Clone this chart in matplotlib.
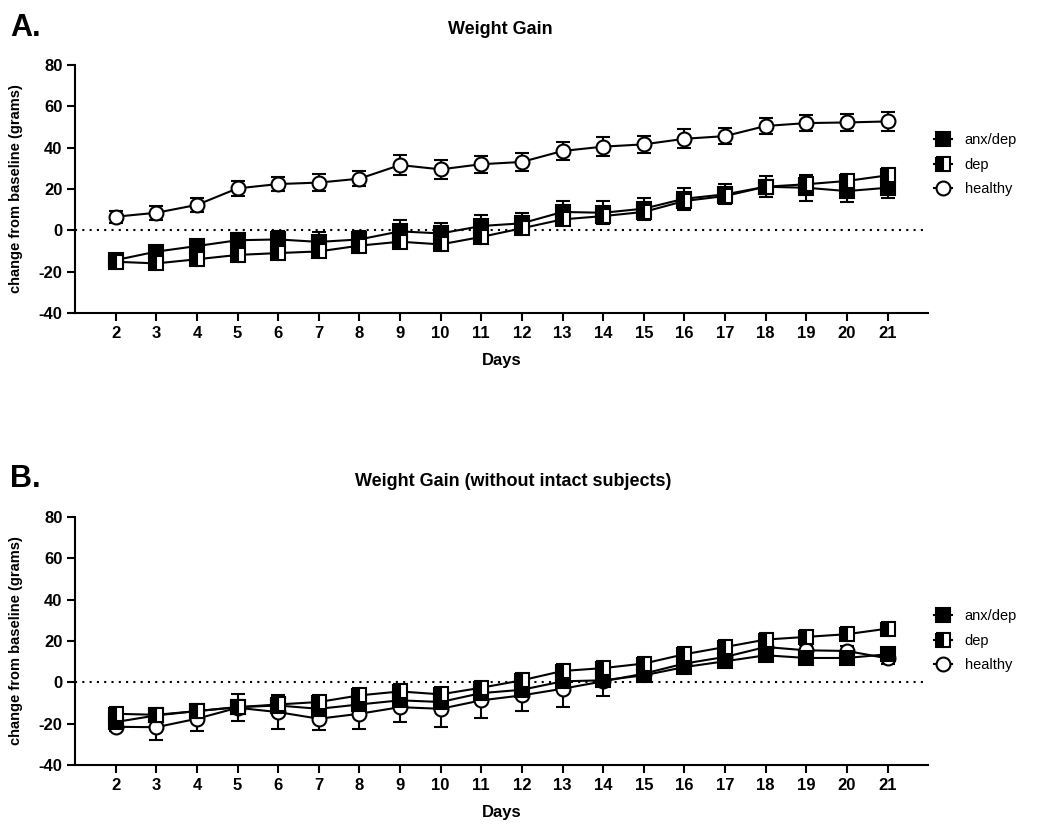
import numpy as np
import matplotlib
matplotlib.use('Agg')
import matplotlib.pyplot as plt
from matplotlib.lines import Line2D

plt.rcParams['font.family'] = ['Liberation Sans', 'DejaVu Sans']
plt.rcParams['axes.unicode_minus'] = False

days = np.arange(2, 22)
groups = ['anx/dep', 'dep', 'healthy']

# Panel A: Weight Gain
a_anxdep = [-14.4, -10.3, -7.6, -4.8, -4.4, -5.6, -4.4, -0.5, -1.5, 2.1,
            3.4, 8.9, 8.5, 10.5, 15.3, 17.4, 21.1, 20.6, 19.0, 20.6]
a_anxdep_err = [2.5, 2.5, 2.5, 3.7, 4.0, 4.8, 4.0, 5.5, 5.0, 5.3,
                5.0, 5.3, 5.6, 5.3, 5.3, 4.8, 5.0, 6.4, 5.3, 5.0]
a_dep = [-15.2, -16.0, -14.0, -11.9, -11.0, -10.2, -7.4, -5.5, -6.8, -3.2,
         1.0, 5.3, 6.9, 8.9, 14.2, 16.6, 21.1, 22.3, 23.9, 26.6]
a_dep_err = [2.0, 2.5, 2.5, 2.5, 2.5, 2.5, 2.5, 2.5, 2.5, 2.5,
             2.5, 2.5, 2.5, 2.5, 2.5, 2.5, 2.5, 2.5, 2.5, 2.5]
a_healthy = [6.6, 8.5, 12.3, 20.3, 22.4, 23.1, 25.0, 31.6, 29.5, 32.0,
             33.1, 38.4, 40.5, 41.6, 44.3, 45.6, 50.5, 51.9, 52.2, 52.7]
a_healthy_err = [3.0, 3.5, 3.5, 3.5, 3.5, 4.0, 3.5, 4.8, 4.5, 4.2,
                 4.5, 4.5, 4.5, 4.0, 4.5, 4.0, 4.0, 4.0, 4.0, 4.5]

# Panel B: Weight Gain (without intact subjects)
b_anxdep = [-19.2, -16.0, -13.9, -12.0, -11.2, -12.8, -10.7, -8.7, -9.5, -5.2,
            -3.6, 0.5, 1.0, 3.4, 7.4, 10.2, 13.1, 11.8, 11.8, 13.6]
b_anxdep_err = [2.0, 2.0, 2.0, 2.0, 2.0, 2.0, 2.0, 2.0, 2.0, 2.0,
                2.0, 2.0, 2.0, 2.0, 2.0, 2.0, 2.0, 2.0, 2.0, 2.0]
b_dep = [-15.2, -15.7, -13.9, -12.0, -10.7, -9.5, -6.3, -4.4, -5.8, -2.6,
         1.0, 5.5, 6.9, 9.1, 13.6, 17.1, 20.7, 22.0, 23.3, 26.0]
b_dep_err = [2.0, 2.0, 2.0, 2.0, 2.0, 2.0, 2.0, 2.0, 2.0, 2.0,
             2.0, 2.0, 2.0, 2.0, 2.0, 2.0, 2.0, 2.0, 2.0, 2.0]
b_healthy = [-21.5, -21.7, -17.6, -12.3, -14.4, -17.6, -15.2, -12.0, -12.8, -8.7,
             -6.3, -3.1, 0.5, 4.2, 9.1, 12.3, 17.1, 15.5, 15.2, 11.6]
b_healthy_err = [2.0, 6.1, 5.7, 6.5, 8.4, 5.3, 7.3, 7.3, 8.9, 8.4,
                 7.6, 8.9, 7.0, 2.5, 2.5, 2.5, 2.5, 2.5, 2.5, 2.5]

styles = {
    'anx/dep': dict(marker='s', markerfacecolor='black', fillstyle='full'),
    'dep': dict(marker='s', markerfacecolor='black', fillstyle='left',
                markerfacecoloralt='white'),
    'healthy': dict(marker='o', markerfacecolor='white', fillstyle='full'),
}


def draw_panel(ax, series, title, title_x, fig_top, legend_y):
    # healthy first, then anx/dep, dep on top
    for name in ['healthy', 'anx/dep', 'dep']:
        y, err = series[name]
        ax.errorbar(days, y, yerr=err, color='black', lw=1.5, capsize=5, capthick=1.5,
                    elinewidth=1.5, markersize=10, markeredgecolor='black',
                    markeredgewidth=1.5, **styles[name])
    ax.axhline(0, color='black', lw=1.5, linestyle=(0, (1, 2.5)), zorder=0)

    ax.set_xlim(1, 22)
    ax.set_ylim(-40, 80)
    ax.set_xticks(days)
    ax.set_yticks(np.arange(-40, 81, 20))
    for s in ['top', 'right']:
        ax.spines[s].set_visible(False)
    for s in ['left', 'bottom']:
        ax.spines[s].set_linewidth(1.5)
    ax.tick_params(width=1.5, length=6, labelsize=12, pad=3)
    for lab in ax.get_xticklabels() + ax.get_yticklabels():
        lab.set_fontweight('bold')

    ax.set_ylabel('change from baseline (grams)', fontsize=10.5, fontweight='bold')
    ax.yaxis.set_label_coords(-0.061, 0.5)
    ax.set_xlabel('Days', fontsize=12, fontweight='bold')
    ax.xaxis.set_label_coords(0.5, -0.16)

    fig.text(title_x, fig_top, title, ha='center', va='center', fontsize=13, fontweight='bold')

    handles = [Line2D([], [], color='black', lw=1.5, markersize=10, markeredgecolor='black',
                      markeredgewidth=1.5, **styles[g]) for g in groups]
    ax.legend(handles, groups, loc='upper left', bbox_to_anchor=(1.007, legend_y),
              frameon=False, fontsize=10.5, handlelength=1.2, handletextpad=0.9,
              labelspacing=0.72, borderpad=0, borderaxespad=0)


fig = plt.figure(figsize=(10.52, 8.25), dpi=100)
axA = fig.add_axes([0.0713, 0.6206, 0.811, 0.3006])
axB = fig.add_axes([0.0713, 0.0727, 0.811, 0.3006])

draw_panel(axA, {'anx/dep': (a_anxdep, a_anxdep_err), 'dep': (a_dep, a_dep_err),
                 'healthy': (a_healthy, a_healthy_err)},
           'Weight Gain', 500 / 1052, 1 - 30 / 825, 0.725)
draw_panel(axB, {'anx/dep': (b_anxdep, b_anxdep_err), 'dep': (b_dep, b_dep_err),
                 'healthy': (b_healthy, b_healthy_err)},
           'Weight Gain (without intact subjects)', 513 / 1052, 1 - 481 / 825, 0.628)

fig.text(10 / 1052, 1 - 36 / 825, 'A.', fontsize=22, fontweight='bold', va='baseline')
fig.text(10 / 1052, 1 - 487 / 825, 'B.', fontsize=22, fontweight='bold', va='baseline')

fig.savefig('out.png', dpi=100)
